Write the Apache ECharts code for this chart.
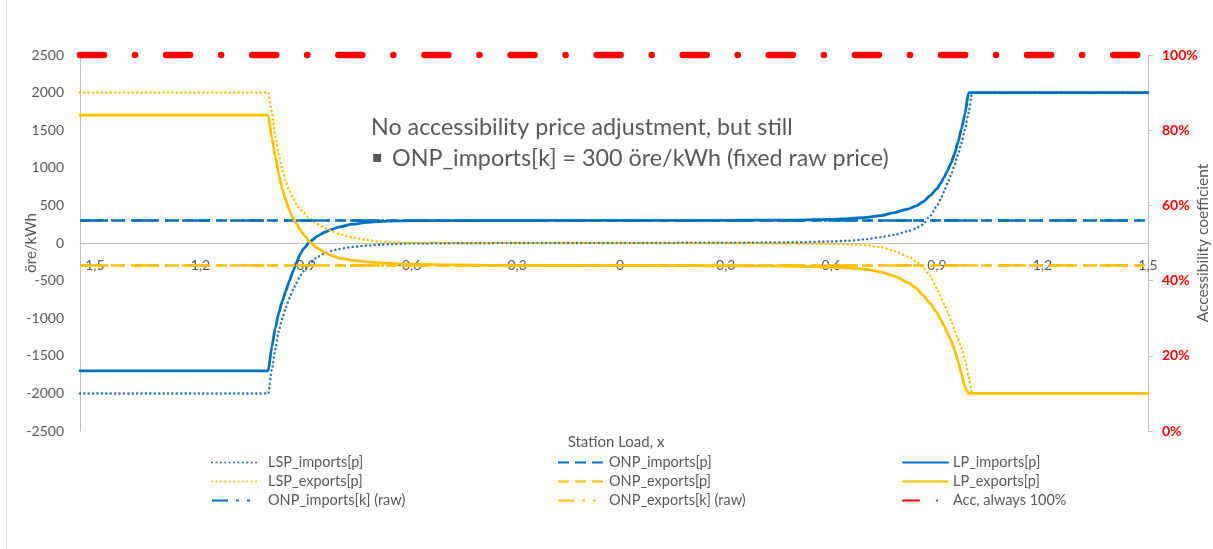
<!DOCTYPE html>
<html><head><meta charset="utf-8">
<script src="https://cdn.jsdelivr.net/npm/echarts@6/dist/echarts.min.js"></script>
<style>html,body{margin:0;padding:0;background:#fff}#c{width:1213px;height:549px}</style>
</head><body><div id="c"></div>
<script>
// ---- data ----
const loadX = [-1.535, -1.0, -0.99, -0.98, -0.97, -0.96, -0.95, -0.94, -0.93, -0.92, -0.91, -0.9,
  -0.88, -0.86, -0.84, -0.82, -0.8, -0.76, -0.72, -0.68, -0.64, -0.6,
  -0.5, -0.4, -0.3, -0.2, -0.1, 0, 0.1, 0.2, 0.3, 0.4, 0.5,
  0.6, 0.65, 0.7, 0.74, 0.78, 0.82, 0.84, 0.86, 0.88, 0.9,
  0.91, 0.92, 0.93, 0.94, 0.95, 0.96, 0.97, 0.98, 0.99, 1.0, 1.5];
const lspImports = [-2000, -2000, -1690, -1410, -1170, -1000, -855, -735, -625, -530, -440, -375,
  -265, -185, -140, -105, -80, -52, -34, -22, -12, -7,
  -4, -2, -1, 0, 0, 0, 1, 2, 3, 5, 9,
  20, 30, 50, 78, 108, 160, 195, 245, 355, 490,
  575, 680, 790, 905, 1030, 1175, 1330, 1510, 1730, 2000, 2000];
const lspExports = [2000, 2000, 1750, 1414, 1170, 980, 815, 695, 602, 515, 455, 405,
  312, 252, 200, 158, 122, 72, 38, 20, 6, 3,
  2, 1, 1, 0, 0, 0, -1, -2, -3, -5, -8,
  -14, -20, -30, -55, -105, -185, -240, -320, -430, -600,
  -700, -810, -915, -1024, -1150, -1280, -1400, -1560, -1760, -2000, -2000];
const lpImports = [-1700, -1700, -1380, -1130, -930, -770, -635, -505, -380, -260, -155, -75,
  25, 92, 143, 180, 212, 250, 274, 288, 294, 297,
  298, 299, 299, 300, 300, 300, 300, 301, 302, 303, 305,
  315, 325, 340, 365, 405, 455, 490, 545, 625, 720,
  790, 870, 960, 1060, 1180, 1340, 1520, 1720, 2000, 2000, 2000];
const lpExports = [1700, 1700, 1400, 1150, 910, 715, 565, 435, 335, 255, 182, 115,
  5, -70, -128, -168, -200, -232, -252, -264, -273, -280,
  -290, -295, -298, -299, -300, -300, -301, -302, -303, -305, -309,
  -320, -332, -352, -385, -440, -530, -595, -690, -800, -925,
  -1010, -1100, -1195, -1290, -1420, -1570, -1740, -1920, -2000, -2000, -2000];
const flatX = [-1.535, 1.5];
const onpImportsP = [300, 300];
const onpExportsP = [-300, -300];
const onpImportsK = [300, 300];
const onpExportsK = [-300, -300];
const accValues = [1, 1];
const xTickValues = [-1.5, -1.2, -0.9, -0.6, -0.3, 0, 0.3, 0.6, 0.9, 1.2, 1.5];
const legendCol1 = ['LSP_imports[p]', 'LSP_exports[p]', 'ONP_imports[k] (raw)'];
const legendCol2 = ['ONP_imports[p]', 'ONP_exports[p]', 'ONP_exports[k] (raw)'];
const legendCol3 = ['LP_imports[p]', 'LP_exports[p]', 'Acc, always 100%'];
const noteLine1 = 'No accessibility price adjustment, but still';
const noteLine2 = 'ONP_imports[k] = 300 öre/kWh (fixed raw price)';

// ---- styling ----
const BLUE = '#0070C0', BLUE_DOT = '#2E75B6', YEL = '#FFC000', RED = '#FF0000', GRAY = '#595959', AXIS = '#BFBFBF';
const FONT = 'Lato, "Open Sans", sans-serif';
const DOT = [0.1, 4.3], DASH = [11, 6], DASHDOT = [22, 9, 3, 8, 3, 9], ACCDASH = [24, 31, 0.1, 31];

const zip = (xs, ys) => xs.map((x, i) => [x, ys[i]]);
function line(name, xs, ys, color, width, type, cap, yAxisIndex, extra) {
  return Object.assign({
    name, type: 'line', data: zip(xs, ys), symbol: 'none', showSymbol: false, yAxisIndex: yAxisIndex || 0,
    lineStyle: { color, width, type, cap: cap || 'butt' }, itemStyle: { color },
    silent: true, animation: false
  }, extra || {});
}
const curve = { smooth: 0.2, smoothMonotone: 'x' };

const series = [
  line('LSP_imports[p]', loadX, lspImports, BLUE_DOT, 2.5, DOT, 'round', 0, curve),
  line('ONP_imports[p]', flatX, onpImportsP, BLUE, 2.5, DASH),
  line('LP_imports[p]', loadX, lpImports, BLUE, 2.8, 'solid', 'round', 0, curve),
  line('LSP_exports[p]', loadX, lspExports, YEL, 2.5, DOT, 'round', 0, curve),
  line('ONP_exports[p]', flatX, onpExportsP, YEL, 2.5, DASH),
  line('LP_exports[p]', loadX, lpExports, YEL, 2.8, 'solid', 'round', 0, curve),
  line('ONP_imports[k] (raw)', flatX, onpImportsK, BLUE, 2.5, DASHDOT),
  line('ONP_exports[k] (raw)', flatX, onpExportsK, YEL, 2.5, DASHDOT),
  line('Acc, always 100%', flatX, accValues, RED, 6.5, ACCDASH, 'round', 1, { clip: false, z: 5 })
];

function legendCol(data, left, textPad) {
  return {
    data: data.map(n => {
      if (n === 'Acc, always 100%') return { name: n, lineStyle: { type: [16, 18, 0.1, 18] } };
      if (n.indexOf('(raw)') >= 0) return { name: n, lineStyle: { type: [16, 8, 3, 8, 3, 8] } };
      return n;
    }),
    orient: 'vertical', left, top: 450, itemWidth: 45, itemHeight: 14, itemGap: 4,
    selectedMode: false,
    itemStyle: { opacity: 0, borderWidth: 0 },
    textStyle: { color: GRAY, fontSize: 14.5, fontFamily: FONT, padding: [0, 0, 0, textPad] }
  };
}

const chart = echarts.init(document.getElementById('c'), null, { renderer: 'canvas' });
chart.setOption({
  animation: false,
  backgroundColor: '#fff',
  textStyle: { fontFamily: FONT },
  grid: { left: 80, right: 65, top: 55, bottom: 118, containLabel: false, outerBoundsMode: 'none' },
  xAxis: {
    type: 'value', min: -1.535, max: 1.5, position: 'bottom', offset: -188,
    axisLine: { show: true, onZero: false, lineStyle: { color: AXIS, width: 1 } },
    axisTick: { show: false },
    splitLine: { show: false },
    axisLabel: {
      customValues: xTickValues, color: GRAY, fontSize: 14, fontFamily: FONT, margin: 15,
      formatter: v => (Math.abs(v) < 1e-9 ? '0' : v.toFixed(1).replace('.', ','))
    }
  },
  yAxis: [
    {
      type: 'value', min: -2500, max: 2500, interval: 500, position: 'left',
      axisLine: { show: true, onZero: false, lineStyle: { color: AXIS } },
      axisTick: { show: false }, splitLine: { show: false },
      axisLabel: { color: GRAY, fontSize: 14, fontFamily: FONT, margin: 16, formatter: v => String(v) },
      name: 'öre/kWh', nameLocation: 'middle', nameRotate: 90, nameGap: 41, nameMoveOverlap: false,
      nameTextStyle: { color: GRAY, fontSize: 15, fontFamily: FONT }
    },
    {
      type: 'value', min: 0, max: 1, interval: 0.2, position: 'right',
      axisLine: { show: true, onZero: false, lineStyle: { color: AXIS } },
      axisTick: { show: true, inside: false, length: 5, lineStyle: { color: AXIS } },
      splitLine: { show: false },
      axisLabel: { color: RED, fontWeight: 'bold', fontSize: 14, fontFamily: FONT, margin: 14,
        formatter: v => Math.round(v * 100) + '%' },
      name: 'Accessibility coefficient', nameLocation: 'middle', nameRotate: 90, nameGap: 47, nameMoveOverlap: false,
      nameTextStyle: { color: GRAY, fontSize: 15.5, fontFamily: FONT }
    }
  ],
  legend: [legendCol(legendCol1, 206, 6), legendCol(legendCol2, 552, 1), legendCol(legendCol3, 897, 0)],
  graphic: [
    { type: 'line', shape: { x1: 6.5, y1: 0, x2: 6.5, y2: 549 }, style: { stroke: '#D9D9D9', lineWidth: 1 }, silent: true },
    { type: 'text', x: 616, y: 442, style: { text: 'Station Load, x', fill: GRAY, font: '15px ' + FONT, align: 'center', verticalAlign: 'middle' }, silent: true },
    { type: 'text', x: 371, y: 127, style: { text: noteLine1, fill: GRAY, font: '23.3px ' + FONT, align: 'left', verticalAlign: 'middle' }, silent: true },
    { type: 'text', x: 372, y: 158, style: { text: '▪', fill: GRAY, font: '16px "DejaVu Sans"', align: 'left', verticalAlign: 'middle' }, silent: true },
    { type: 'text', x: 392, y: 158, style: { text: noteLine2, fill: GRAY, font: '23.3px ' + FONT, align: 'left', verticalAlign: 'middle' }, silent: true }
  ],
  series
});
</script></body></html>
